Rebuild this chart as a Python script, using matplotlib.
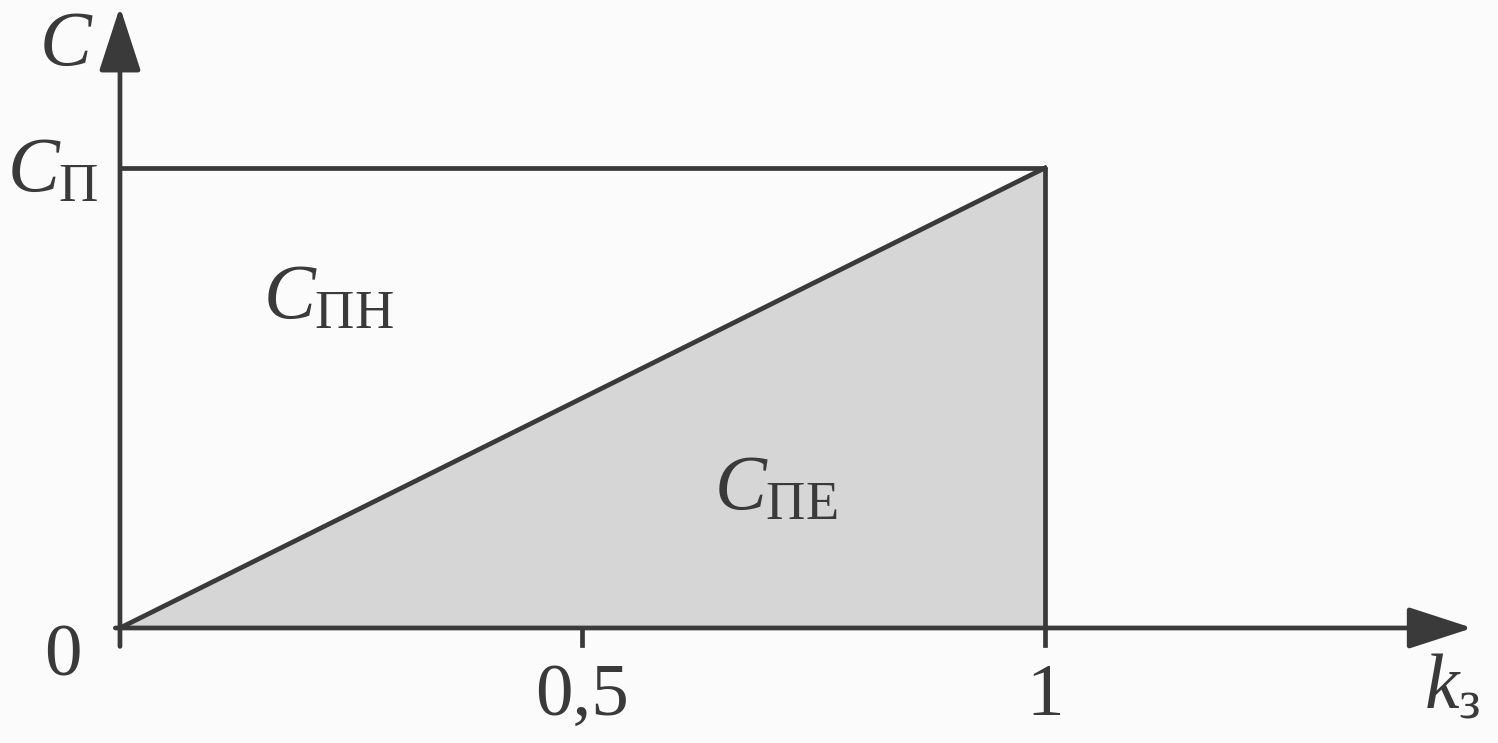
import numpy as np
import matplotlib
matplotlib.use('Agg')
import matplotlib.pyplot as plt

plt.rcParams['font.family'] = ['Liberation Serif', 'DejaVu Serif']
plt.rcParams['mathtext.fontset'] = 'custom'
plt.rcParams['mathtext.rm'] = 'Liberation Serif'
plt.rcParams['mathtext.it'] = 'Liberation Serif:italic'

# data
k3 = [0, 1]            # коефіцієнт завантаження
c_pe = [0, 1]          # змінна частина (діагональ)
c_p = 1                # повні витрати
xticks = [0, 0.5, 1]
xtick_labels = ['0', '0,5', '1']

ink = '#3a3a3a'
fig = plt.figure(figsize=(14.98, 7.43), dpi=100)
fig.patch.set_facecolor('#fbfbfb')
ax = fig.add_axes([0, 0, 1, 1])
ax.set_facecolor('#fbfbfb')
ax.set_xlim(-0.1297, 1.4897)
ax.set_ylim(-0.25, 1.365)
ax.axis('off')

# shaded triangle
ax.fill_between(k3, 0, c_pe, color='#d6d6d6', lw=0, zorder=1)

# rectangle + diagonal
lw = 3.4
ax.plot([0, 1, 1], [c_p, c_p, 0], color=ink, lw=lw, zorder=3, solid_capstyle='butt')
ax.plot(k3, c_pe, color=ink, lw=lw, zorder=3)

# axes with arrows
arr = dict(arrowstyle='-|>,head_length=2.0,head_width=0.65', color=ink, lw=lw,
           mutation_scale=20, shrinkA=0, shrinkB=0)
ax.annotate('', xy=(1.462, 0), xytext=(-0.005, 0), arrowprops=arr, zorder=4)
ax.annotate('', xy=(0, 1.35), xytext=(0, -0.04), arrowprops=arr, zorder=4)

# ticks
for t in xticks[1:]:
    ax.plot([t, t], [0, -0.038], color=ink, lw=lw, zorder=3)

# tick labels
ax.text(-0.062, -0.065, xtick_labels[0], fontsize=54, ha='center', va='center', color=ink)
for t, lab in zip(xticks[1:], xtick_labels[1:]):
    ax.text(t, -0.15, lab, fontsize=54, ha='center', va='center', color=ink)

# labels
ax.text(-0.028, 1.265, r'$C$', fontsize=56, ha='right', va='center', color=ink)
ax.text(-0.023, 0.99, r'$C_{\mathrm{П}}$', fontsize=56, ha='right', va='center', color=ink)
ax.text(0.155, 0.715, r'$C_{\mathrm{ПН}}$', fontsize=56, ha='left', va='center', color=ink)
ax.text(0.642, 0.30, r'$C_{\mathrm{ПЕ}}$', fontsize=56, ha='left', va='center', color=ink)
ax.text(1.41, -0.135, r'$k_{\mathrm{з}}$', fontsize=56, ha='left', va='center', color=ink)

fig.savefig('out.png', dpi=100, facecolor=fig.get_facecolor())
